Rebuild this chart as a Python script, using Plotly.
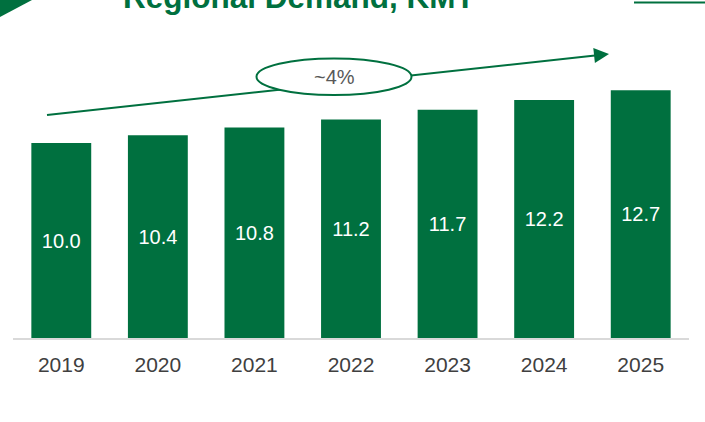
import plotly.graph_objects as go

years = ["2019", "2020", "2021", "2022", "2023", "2024", "2025"]
demand = [10.0, 10.4, 10.8, 11.2, 11.7, 12.2, 12.7]
title_text = "Regional Demand, KMT"
cagr_text = "~4%"

GREEN = "#00703f"
W, H = 705, 422
L, R, T, B = 13, 16, 30, 84
PW, PH = W - L - R, H - T - B

def px(x):
    return (x - L) / PW

def py(y):
    return (H - B - y) / PH

fig = go.Figure()
fig.add_trace(go.Bar(
    x=years, y=demand,
    marker=dict(color=GREEN, line=dict(width=0)),
    text=[f"{v:.1f}" for v in demand],
    textposition="inside", insidetextanchor="middle", textangle=0,
    textfont=dict(color="white", size=20, family="Liberation Sans, Arial"),
    hoverinfo="skip",
))

shapes = []
# decorative corner triangle
shapes.append(dict(type="path", xref="paper", yref="paper",
                   path=f"M {px(0)} {py(0)} L {px(32)} {py(0)} L {px(0)} {py(17)} Z",
                   fillcolor=GREEN, line=dict(width=0), layer="above"))
# top-right rule
shapes.append(dict(type="line", xref="paper", yref="paper",
                   x0=px(634), x1=px(705), y0=py(2.5), y1=py(2.5),
                   line=dict(color=GREEN, width=2)))
# growth arrow line
shapes.append(dict(type="line", xref="paper", yref="paper",
                   x0=px(47), y0=py(115), x1=px(595), y1=py(55.5),
                   line=dict(color=GREEN, width=2)))
# arrow head
shapes.append(dict(type="path", xref="paper", yref="paper",
                   path=f"M {px(609)} {py(54)} L {px(594.9)} {py(63.1)} L {px(593.3)} {py(48.1)} Z",
                   fillcolor=GREEN, line=dict(width=0)))
# ellipse
shapes.append(dict(type="circle", xref="paper", yref="paper",
                   x0=px(256.5), x1=px(411.5), y0=py(95), y1=py(58.5),
                   fillcolor="white", line=dict(color=GREEN, width=2)))

annotations = [
    dict(text=cagr_text, xref="paper", yref="paper", x=px(334), y=py(77),
         xanchor="center", yanchor="middle", showarrow=False,
         font=dict(size=20, color="#595959", family="Liberation Sans, Arial")),
    dict(text=f"<b>{title_text}</b>", xref="paper", yref="paper", x=px(299), y=py(-3),
         xanchor="center", yanchor="middle", showarrow=False,
         font=dict(size=31.5, color=GREEN, family="Liberation Sans, Arial")),
]

fig.update_layout(
    width=W, height=H,
    margin=dict(l=L, r=R, t=T, b=B, pad=0),
    paper_bgcolor="white", plot_bgcolor="white",
    showlegend=False, bargap=0.38,
    shapes=shapes, annotations=annotations,
    xaxis=dict(showgrid=False, showline=True, linecolor="#d9d9d9", linewidth=1.5,
               ticks="", tickfont=dict(size=21, color="#404040", family="Liberation Sans, Arial"),
               ticklabelstandoff=7, fixedrange=True),
    yaxis=dict(range=[0, PH / 19.5], visible=False, showgrid=False, zeroline=False, fixedrange=True),
)

fig.write_html("out.html", config={"displayModeBar": False})
